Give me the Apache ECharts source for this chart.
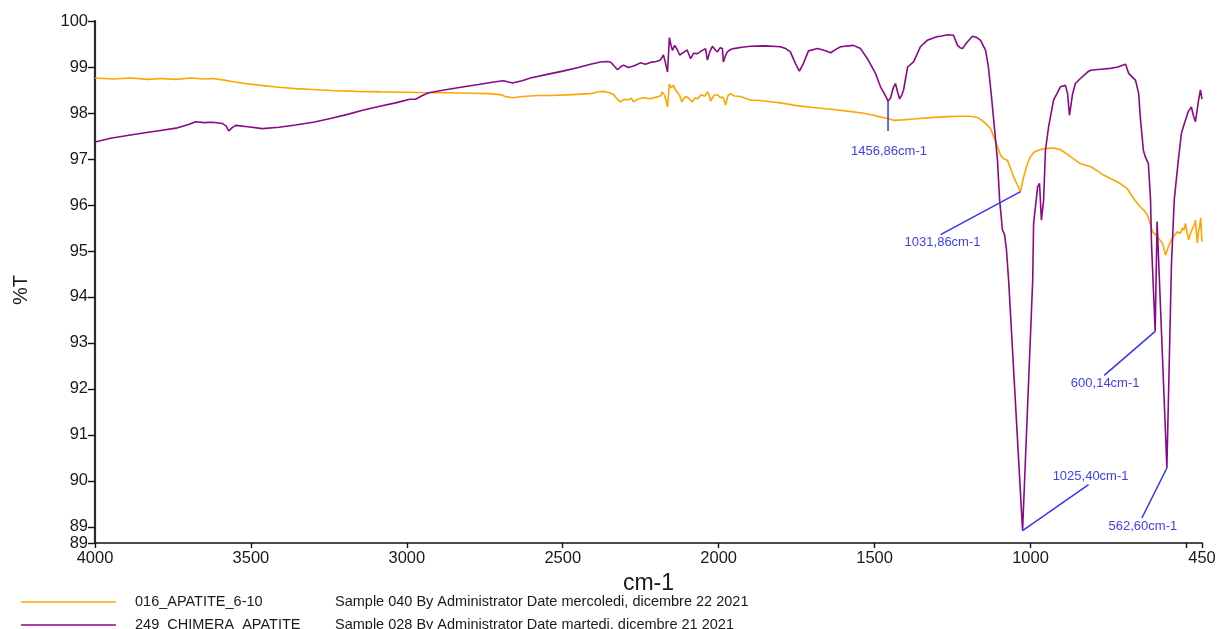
<!DOCTYPE html>
<html>
<head>
<meta charset="utf-8">
<script src="https://cdn.jsdelivr.net/npm/echarts@6/dist/echarts.min.js"></script>
<style>
html, body { margin: 0; padding: 0; background: #ffffff; }
#chart { width: 1220px; height: 629px; }
</style>
</head>
<body>
<div id="chart"></div>
<script>
// FTIR spectra: wavenumber (cm-1) and transmittance (%T)

const wnApatite = [
  4000, 3940, 3886, 3830, 3790, 3740, 3694, 3650, 3623, 3590, 3565, 3520, 3469, 3410, 3357, 3300,
  3245, 3160, 3084, 3000, 2930, 2860, 2796, 2740, 2700, 2684, 2661, 2629, 2580, 2539, 2470, 2411,
  2385, 2369, 2350, 2337, 2325, 2315, 2302, 2292, 2280, 2273, 2260, 2241, 2220, 2196, 2185, 2181,
  2175, 2171, 2164, 2158, 2152, 2145, 2140, 2134, 2125, 2118, 2110, 2101, 2093, 2084, 2076, 2068,
  2055, 2045, 2036, 2030, 2026, 2015, 2004, 1995, 1988, 1983, 1978, 1970, 1962, 1950, 1930, 1910,
  1898, 1866, 1840, 1802, 1750, 1696, 1640, 1587, 1540, 1503, 1480, 1458, 1439, 1410, 1375, 1320,
  1266, 1230, 1192, 1170, 1160, 1145, 1128, 1112, 1096, 1085, 1074, 1064, 1054, 1043, 1031.86, 1024,
  1016, 1008, 1000, 988, 974, 960, 942, 925, 904, 885, 872, 855, 840, 825, 807, 785,
  766, 745, 721, 705, 689, 680, 673, 660, 648, 636, 625, 617, 609, 600, 593, 585,
  577, 572, 567, 562, 558, 552, 545, 537, 529, 520, 513, 508, 503, 498, 493, 487,
  480, 475, 471, 468, 465, 461, 458, 454, 450
];
const tApatite = [
  98.76, 98.74, 98.76, 98.73, 98.75, 98.73, 98.76, 98.74, 98.75, 98.72, 98.69, 98.64, 98.60, 98.56, 98.53, 98.51,
  98.49, 98.47, 98.46, 98.45, 98.44, 98.44, 98.43, 98.42, 98.40, 98.36, 98.33, 98.36, 98.38, 98.38, 98.40, 98.42,
  98.46, 98.47, 98.44, 98.40, 98.30, 98.24, 98.30, 98.28, 98.32, 98.24, 98.30, 98.33, 98.31, 98.35, 98.38, 98.46,
  98.40, 98.33, 98.13, 98.63, 98.55, 98.60, 98.52, 98.46, 98.38, 98.24, 98.34, 98.35, 98.30, 98.24, 98.33, 98.31,
  98.40, 98.36, 98.46, 98.38, 98.26, 98.38, 98.40, 98.33, 98.35, 98.30, 98.17, 98.38, 98.42, 98.37, 98.36, 98.31,
  98.28, 98.27, 98.25, 98.22, 98.16, 98.12, 98.08, 98.04, 98.00, 97.95, 97.91, 97.88, 97.84, 97.85, 97.87, 97.90,
  97.92, 97.93, 97.93, 97.90, 97.86, 97.78, 97.66, 97.38, 97.08, 97.00, 96.97, 96.80, 96.61, 96.45, 96.29, 96.55,
  96.76, 96.93, 97.05, 97.15, 97.19, 97.22, 97.23, 97.24, 97.20, 97.12, 97.05, 96.97, 96.90, 96.87, 96.83, 96.74,
  96.65, 96.58, 96.50, 96.43, 96.35, 96.25, 96.18, 96.06, 95.96, 95.88, 95.78, 95.62, 95.42, 95.36, 95.31, 95.24,
  95.17, 95.05, 94.91, 95.00, 95.09, 95.18, 95.28, 95.35, 95.42, 95.38, 95.50, 95.45, 95.60, 95.40, 95.24, 95.38,
  95.50, 95.55, 95.67, 95.40, 95.17, 95.45, 95.50, 95.72, 95.20
];

const wnChimera = [
  4000, 3950, 3886, 3840, 3790, 3740, 3700, 3677, 3650, 3623, 3591, 3580, 3571, 3560, 3549, 3510,
  3463, 3410, 3357, 3300, 3245, 3190, 3142, 3090, 3036, 2990, 2972, 2950, 2930, 2880, 2827, 2770,
  2716, 2690, 2661, 2630, 2604, 2550, 2500, 2450, 2411, 2379, 2360, 2347, 2335, 2324, 2315, 2305,
  2290, 2273, 2260, 2251, 2235, 2219, 2200, 2187, 2177, 2171, 2164, 2158, 2152, 2148, 2141, 2133,
  2125, 2110, 2101, 2090, 2080, 2068, 2055, 2042, 2036, 2028, 2020, 2012, 2004, 1995, 1988, 1985,
  1978, 1972, 1962, 1952, 1925, 1898, 1850, 1802, 1785, 1770, 1754, 1741, 1728, 1712, 1683, 1660,
  1641, 1620, 1609, 1568, 1545, 1523, 1497, 1481, 1467, 1456.86, 1449, 1440, 1433, 1426, 1420, 1412,
  1407, 1394, 1375, 1353, 1331, 1300, 1289, 1265, 1247, 1234, 1226, 1218, 1210, 1202, 1186, 1172,
  1160, 1144, 1135, 1125, 1119, 1106, 1099, 1090, 1083, 1077, 1070, 1025.40, 993, 990, 977, 971,
  965, 958, 952, 942, 926, 904, 888, 881, 875, 865, 856, 840, 817, 807, 775, 744,
  720, 705, 695, 685, 663, 653, 648, 638, 632, 622, 615, 612, 600.14, 594, 562.60, 548,
  539, 526, 516, 506, 494, 484, 478, 471, 461, 455, 450
];
const tChimera = [
  97.37, 97.45, 97.52, 97.57, 97.62, 97.67, 97.75, 97.81, 97.79, 97.80, 97.77, 97.72, 97.61, 97.68, 97.73, 97.70,
  97.66, 97.69, 97.74, 97.80, 97.88, 97.97, 98.06, 98.14, 98.22, 98.30, 98.30, 98.38, 98.44, 98.50, 98.56, 98.62,
  98.68, 98.70, 98.65, 98.70, 98.76, 98.84, 98.91, 98.99, 99.06, 99.11, 99.12, 99.11, 99.02, 98.94, 99.00, 99.04,
  98.99, 99.02, 99.06, 99.09, 99.06, 99.10, 99.12, 99.15, 99.26, 99.10, 98.89, 99.64, 99.45, 99.36, 99.47, 99.38,
  99.26, 99.33, 99.37, 99.18, 99.30, 99.29, 99.35, 99.40, 99.15, 99.34, 99.45, 99.38, 99.33, 99.42, 99.40, 99.11,
  99.25, 99.33, 99.38, 99.40, 99.43, 99.45, 99.46, 99.44, 99.40, 99.33, 99.08, 98.91, 99.08, 99.35, 99.40, 99.36,
  99.31, 99.40, 99.44, 99.47, 99.40, 99.18, 98.86, 98.57, 98.40, 98.26, 98.32, 98.55, 98.64, 98.45, 98.31, 98.40,
  98.50, 99.00, 99.11, 99.44, 99.58, 99.66, 99.67, 99.70, 99.69, 99.47, 99.42, 99.40, 99.48, 99.55, 99.67, 99.64,
  99.58, 99.36, 99.00, 98.35, 97.92, 96.98, 96.11, 95.46, 95.35, 95.02, 94.35, 88.92, 94.35, 95.60, 96.40, 96.47,
  95.67, 96.10, 97.19, 97.70, 98.28, 98.57, 98.60, 98.42, 97.95, 98.42, 98.64, 98.75, 98.89, 98.93, 98.95, 98.97,
  99.00, 99.04, 99.06, 98.86, 98.71, 98.42, 97.92, 97.19, 97.05, 96.90, 96.11, 95.17, 93.25, 95.64, 90.28, 94.70,
  96.11, 96.97, 97.56, 97.78, 98.03, 98.13, 97.95, 97.81, 98.28, 98.50, 98.30
];

// Axis ticks and labels
const yMin = 88.65;
const yMax = 100;
const yTickValues = [89, 90, 91, 92, 93, 94, 95, 96, 97, 98, 99, 100];
const xTickValues = [4000, 3500, 3000, 2500, 2000, 1500, 1000, 500, 450];
const xLabelValues = [4000, 3500, 3000, 2500, 2000, 1500, 1000, 450];

// Legend entries
const seriesNames = ['016_APATITE_6-10', '249_CHIMERA_APATITE'];
const seriesInfo = [
  'Sample 040 By Administrator Date mercoledi, dicembre 22 2021',
  'Sample 028 By Administrator Date martedi, dicembre 21 2021'
];
const seriesColors = ['#ffa500', '#880a88'];

// Peak annotations: series index and wavenumber of the marked minimum
const peakSeries = [1, 0, 1, 1, 1];
const peakWn = [1456.86, 1031.86, 600.14, 1025.40, 562.60];

const FONT = '"Liberation Sans", Arial, sans-serif';

const chart = echarts.init(document.getElementById('chart'), null, { renderer: 'canvas' });

function pairs(wn, t) {
  return wn.map((w, i) => [w, t[i]]);
}

const yLabelStyle = {
  margin: 7,
  fontFamily: FONT,
  fontSize: 16.5,
  color: '#1a1a1a',
  showMinLabel: true,
  showMaxLabel: true,
  hideOverlap: false,
  formatter: v => String(Math.round(v))
};

chart.setOption({
  animation: false,
  backgroundColor: '#ffffff',
  grid: { left: 95, right: 18, top: 21, bottom: 86, containLabel: false },
  xAxis: {
    type: 'value',
    inverse: true,
    min: 450,
    max: 4000,
    name: 'cm-1',
    nameLocation: 'middle',
    nameGap: 22,
    nameTextStyle: { fontFamily: FONT, fontSize: 23, color: '#1a1a1a' },
    axisLine: { show: true, lineStyle: { color: '#111111', width: 1.6 } },
    axisTick: { show: true, length: 5, customValues: xTickValues, lineStyle: { color: '#111111', width: 1.4 } },
    axisLabel: {
      customValues: xLabelValues,
      margin: 7,
      fontFamily: FONT,
      fontSize: 16.5,
      color: '#1a1a1a',
      showMinLabel: true,
      showMaxLabel: true,
      hideOverlap: false,
      formatter: v => String(v)
    },
    splitLine: { show: false }
  },
  yAxis: [
    {
      type: 'value',
      min: yMin,
      max: yMax,
      name: '%T',
      nameLocation: 'middle',
      nameGap: 64,
      nameRotate: 90,
      nameTextStyle: { fontFamily: FONT, fontSize: 20, color: '#1a1a1a', padding: [0, 16, 0, 0] },
      axisLine: { show: true, lineStyle: { color: '#2a2a2a', width: 2.2 } },
      axisTick: { show: true, length: 7, customValues: yTickValues, lineStyle: { color: '#111111', width: 1.4 } },
      axisLabel: Object.assign({ customValues: yTickValues }, yLabelStyle),
      splitLine: { show: false }
    },
    {
      // axis-minimum label, drawn on its own so it can sit just below the 89 label
      type: 'value',
      position: 'left',
      min: yMin,
      max: yMax,
      axisLine: { show: false },
      axisTick: { show: true, length: 7, customValues: [yMin], lineStyle: { color: '#111111', width: 1.4 } },
      axisLabel: Object.assign({ customValues: [yMin] }, yLabelStyle),
      splitLine: { show: false }
    }
  ],
  series: [
    {
      name: seriesNames[0],
      type: 'line',
      yAxisIndex: 0,
      data: pairs(wnApatite, tApatite),
      showSymbol: false,
      symbol: 'none',
      lineStyle: { color: seriesColors[0], width: 1.6 },
      z: 3
    },
    {
      name: seriesNames[1],
      type: 'line',
      yAxisIndex: 0,
      data: pairs(wnChimera, tChimera),
      showSymbol: false,
      symbol: 'none',
      lineStyle: { color: seriesColors[1], width: 1.6 },
      z: 4
    }
  ]
});

// Leader-line end and label centre, relative to each marked minimum (pixels)
const noteLayout = [
  { line: [0, 30], text: [1, 50] },
  { line: [-80, 43], text: [-78, 51] },
  { line: [-51, 44], text: [-50, 52] },
  { line: [66, -46], text: [68, -54] },
  { line: [-25, 50], text: [-24, 58] }
];

function peakLabel(wn) {
  return wn.toFixed(2).replace('.', ',') + 'cm-1';
}

function buildGraphics() {
  const elements = [];
  peakWn.forEach((wn, i) => {
    const s = peakSeries[i];
    const wnArr = s === 0 ? wnApatite : wnChimera;
    const tArr = s === 0 ? tApatite : tChimera;
    const val = tArr[wnArr.indexOf(wn)];
    const p = chart.convertToPixel({ seriesIndex: s }, [wn, val]);
    const lay = noteLayout[i];
    elements.push({
      type: 'line',
      z: 20,
      shape: { x1: p[0], y1: p[1], x2: p[0] + lay.line[0], y2: p[1] + lay.line[1] },
      style: { stroke: '#3535f5', lineWidth: 1.5 }
    });
    elements.push({
      type: 'text',
      z: 20,
      x: p[0] + lay.text[0],
      y: p[1] + lay.text[1],
      style: {
        text: peakLabel(wn),
        fill: '#3f3ff0',
        font: '13px ' + FONT,
        align: 'center',
        verticalAlign: 'middle'
      }
    });
  });

  // Legend rows below the axis
  seriesNames.forEach((name, i) => {
    const y = 602 + i * 23;
    elements.push({
      type: 'line',
      z: 20,
      shape: { x1: 21, y1: y, x2: 116, y2: y },
      style: { stroke: seriesColors[i], lineWidth: 1.6 }
    });
    elements.push({
      type: 'text', z: 20, x: 135, y: y,
      style: { text: name, fill: '#1a1a1a', font: '14.5px ' + FONT, align: 'left', verticalAlign: 'middle' }
    });
    elements.push({
      type: 'text', z: 20, x: 335, y: y,
      style: { text: seriesInfo[i], fill: '#1a1a1a', font: '14.5px ' + FONT, align: 'left', verticalAlign: 'middle' }
    });
  });
  return elements;
}

chart.setOption({ graphic: { elements: buildGraphics() } });
</script>
</body>
</html>
